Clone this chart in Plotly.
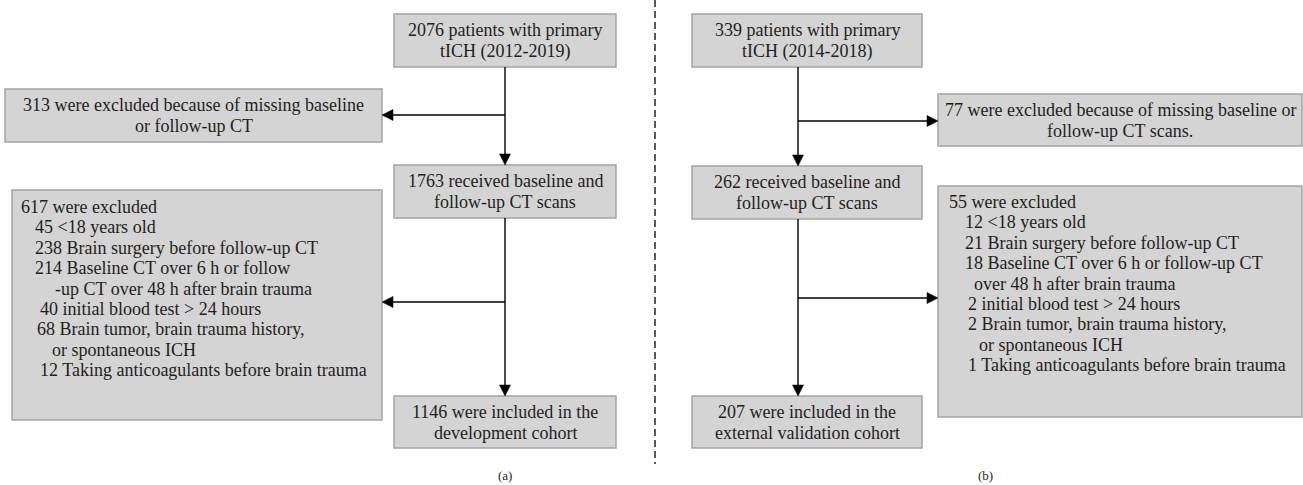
import plotly.graph_objects as go

# ---- data (counts) ----
a_counts = [2076, 313, 1763, 617, 1146]
a_years = "2012-2019"
a_detail = [45, 238, 214, 40, 68, 12]
b_counts = [339, 77, 262, 55, 207]
b_years = "2014-2018"
b_detail = [12, 21, 18, 2, 2, 1]

W, H = 1303, 485
FONT = "Liberation Serif, Times New Roman, DejaVu Serif, serif"
FS = 18
FILL = "#d4d4d4"
EDGE = "#a4a4a4"
INK = "#231f20"

fig = go.Figure()
shapes = []
annots = []

def box(x0, y0, x1, y1):
    shapes.append(dict(type="rect", x0=x0, y0=y0, x1=x1, y1=y1, xref="x", yref="y",
                       fillcolor=FILL, line=dict(color=EDGE, width=1.5), layer="below"))

def text(x, y, s, anchor="center", size=FS):
    annots.append(dict(x=x, y=y, text=s, showarrow=False, xref="x", yref="y",
                       xanchor=anchor, yanchor="middle",
                       font=dict(family=FONT, size=size, color=INK)))

def line(x0, y0, x1, y1, dash=None, width=1.4):
    shapes.append(dict(type="line", x0=x0, y0=y0, x1=x1, y1=y1, xref="x", yref="y",
                       line=dict(color="black", width=width, dash=dash)))

def arrow(x0, y0, x1, y1, L=11, hw=5.5):
    if x0 == x1:
        s = 1 if y1 > y0 else -1
        line(x0, y0, x1, y1 - s * L)
        p = f"M {x1} {y1} L {x1-hw} {y1 - s*L} L {x1+hw} {y1 - s*L} Z"
    else:
        s = 1 if x1 > x0 else -1
        line(x0, y0, x1 - s * L, y1)
        p = f"M {x1} {y1} L {x1 - s*L} {y1-hw} L {x1 - s*L} {y1+hw} Z"
    shapes.append(dict(type="path", path=p, xref="x", yref="y",
                       fillcolor="black", line=dict(color="black", width=0.5)))

def two_lines(xc, y0, y1, l1, l2):
    ym = (y0 + y1) / 2
    text(xc, ym - 10.5, l1)
    text(xc, ym + 10.5, l2)

# ================= panel (a) =================
ax0, ax1 = 394, 616
axc = (ax0 + ax1) / 2
box(ax0, 14, ax1, 67)
two_lines(axc, 14, 67, f"{a_counts[0]} patients with primary", f"tICH ({a_years})")
box(5, 89, 382, 142)
two_lines(193.5, 89, 142, f"{a_counts[1]} were excluded because of missing baseline", "or follow-up CT")
box(ax0, 165, ax1, 218)
two_lines(axc, 165, 218, f"{a_counts[2]} received baseline and", "follow-up CT scans")
box(12, 190, 382, 420)
a_lines = [
    (19, f"{a_counts[3]} were excluded"),
    (33, f"{a_detail[0]} &lt;18 years old"),
    (33, f"{a_detail[1]} Brain surgery before follow-up CT"),
    (33, f"{a_detail[2]} Baseline CT over 6 h or follow"),
    (53, "-up CT over 48 h after brain trauma"),
    (38, f"{a_detail[3]} initial blood test &gt; 24 hours"),
    (35, f"{a_detail[4]} Brain tumor, brain trauma history,"),
    (50, "or spontaneous ICH"),
    (38, f"{a_detail[5]} Taking anticoagulants before brain trauma"),
]
for i, (x, s) in enumerate(a_lines):
    text(x, 207 + i * 20.4, s, anchor="left")
box(ax0, 396, ax1, 448)
two_lines(axc, 396, 448, f"{a_counts[4]} were included in the", "development cohort")

arrow(axc, 67, axc, 165)
arrow(axc, 218, axc, 396)
arrow(axc, 115, 382, 115)
arrow(axc, 302, 382, 302)

# divider
line(655, 0, 655, 464, dash="7px,4px", width=1.3)

# ================= panel (b) =================
bx0, bx1 = 692, 922
bxc = (bx0 + bx1) / 2
bline = 798
box(bx0, 14, bx1, 67)
two_lines(bxc, 14, 67, f"{b_counts[0]} patients with primary", f"tICH ({b_years})")
box(938, 94, 1302, 146)
two_lines(1120, 94, 146, f"{b_counts[1]} were excluded because of missing baseline or", "follow-up CT scans.")
box(bx0, 166, bx1, 219)
two_lines(bxc, 166, 219, f"{b_counts[2]} received baseline and", "follow-up CT scans")
box(938, 186, 1302, 417)
b_lines = [
    (947, f"{b_counts[3]} were excluded"),
    (963, f"{b_detail[0]} &lt;18 years old"),
    (963, f"{b_detail[1]} Brain surgery before follow-up CT"),
    (963, f"{b_detail[2]} Baseline CT over 6 h or follow-up CT"),
    (972, "over 48 h after brain trauma"),
    (966, f"{b_detail[3]} initial blood test &gt; 24 hours"),
    (966, f"{b_detail[4]} Brain tumor, brain trauma history,"),
    (977, "or spontaneous ICH"),
    (966, f"{b_detail[5]} Taking anticoagulants before brain trauma"),
]
for i, (x, s) in enumerate(b_lines):
    text(x, 202 + i * 20.4, s, anchor="left")
box(bx0, 396, bx1, 448)
two_lines(bxc, 396, 448, f"{b_counts[4]} were included in the", "external validation cohort")

arrow(bline, 67, bline, 166)
arrow(bline, 219, bline, 396)
arrow(bline, 121, 938, 121)
arrow(bline, 298, 938, 298)

text(505, 475, "(a)", size=13)
text(985, 475, "(b)", size=13)

fig.update_layout(
    width=W, height=H, margin=dict(l=0, r=0, t=0, b=0),
    paper_bgcolor="white", plot_bgcolor="white",
    xaxis=dict(range=[0, W], visible=False, fixedrange=True),
    yaxis=dict(range=[H, 0], visible=False, fixedrange=True),
    shapes=shapes, annotations=annots, showlegend=False,
)
fig.write_html("out.html", config={"displayModeBar": False},
               post_script="document.body.style.margin='0px';document.body.style.overflow='hidden';")
